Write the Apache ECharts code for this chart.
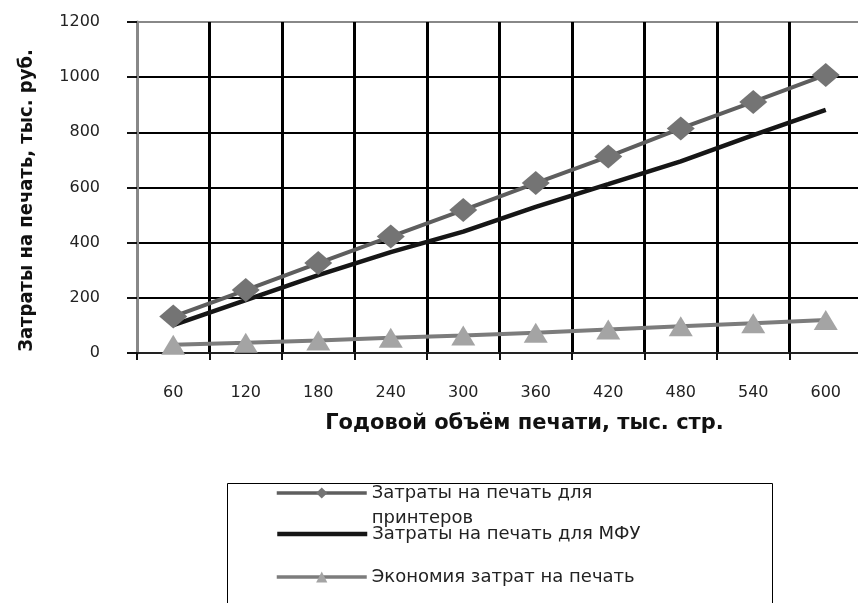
<!DOCTYPE html>
<html><head><meta charset="utf-8">
<script src="https://cdn.jsdelivr.net/npm/echarts@6/dist/echarts.min.js"></script>
<style>html,body{margin:0;padding:0;background:#fff}#c{width:858px;height:603px}</style>
</head><body><div id="c"></div>
<script>
const categories = ['60', '120', '180', '240', '300', '360', '420', '480', '540', '600'];
const printerCosts = [132, 228, 326, 422, 518, 616, 712, 814, 910, 1008];
const mfuCosts = [101, 192, 282, 366, 440, 530, 612, 695, 790, 881];
const savings = [30, 37, 45, 55, 63, 73, 85, 97, 108, 120];
const seriesNames = ['Затраты на печать для принтеров', 'Затраты на печать для МФУ', 'Экономия затрат на печать'];
const xAxisTitle = 'Годовой объём печати, тыс. стр.';
const yAxisTitle = 'Затраты на печать, тыс. руб.';

const chart = echarts.init(document.getElementById('c'), null, {renderer: 'canvas'});
const legendText = {fontFamily: 'DejaVu Sans', fontSize: 18, color: '#222'};
chart.setOption({
  animation: false,
  backgroundColor: '#fff',
  grid: {left: 137, width: 725, top: 22, height: 331, containLabel: false, outerBoundsMode: 'none'},
  graphic: [{
    type: 'rect', z: 0,
    shape: {x: 227.5, y: 483.5, width: 545, height: 200},
    style: {fill: 'none', stroke: '#000', lineWidth: 1}
  }],
  legend: [
    {data: [seriesNames[0]], left: 275, top: 455.5, padding: 0, itemWidth: 90, itemHeight: 14,
     formatter: () => '\nЗатраты на печать для\nпринтеров',
     lineStyle: {width: 3.5},
     textStyle: Object.assign({lineHeight: 25}, legendText)},
    {data: [seriesNames[1]], left: 275, top: 524, padding: 0, itemWidth: 90, itemHeight: 14,
     lineStyle: {width: 4.5}, itemStyle: {opacity: 0},
     textStyle: Object.assign({lineHeight: 20}, legendText)},
    {data: [seriesNames[2]], left: 275, top: 567, padding: 0, itemWidth: 90, itemHeight: 14,
     lineStyle: {width: 3.5},
     textStyle: Object.assign({lineHeight: 20}, legendText)}
  ],
  xAxis: {
    type: 'category', data: categories, boundaryGap: true,
    name: xAxisTitle, nameLocation: 'middle', nameGap: 60,
    nameTextStyle: {fontFamily: 'DejaVu Sans', fontWeight: 'bold', fontSize: 21, color: '#111', padding: [0, 0, 0, 50]},
    axisLine: {show: true, lineStyle: {color: '#222', width: 2}},
    axisTick: {show: true, length: 7, lineStyle: {color: '#111', width: 2}},
    axisLabel: {margin: 32, fontFamily: 'DejaVu Sans', fontSize: 16, color: '#222'},
    splitLine: {show: true, lineStyle: {color: '#000', width: 3}}
  },
  yAxis: {
    type: 'value', min: 0, max: 1200, interval: 200,
    name: yAxisTitle, nameLocation: 'middle', nameGap: 100, nameRotate: 90,
    nameTextStyle: {fontFamily: "'Liberation Sans Narrow', 'DejaVu Sans Condensed', 'Arial Narrow', sans-serif", fontWeight: 'bold', fontSize: 20, color: '#111', padding: [0, 26, 0, 0]},
    axisLine: {show: true, lineStyle: {color: '#888', width: 3}},
    axisTick: {show: true, length: 10, lineStyle: {color: '#111', width: 2}},
    axisLabel: {margin: 37, fontFamily: 'DejaVu Sans', fontSize: 16, color: '#222', formatter: v => String(v)},
    splitLine: {show: true, lineStyle: {color: ['#000', '#000', '#000', '#000', '#000', '#000', '#888'], width: 2}}
  },
  series: [
    {name: seriesNames[0], type: 'line', data: printerCosts, z: 4,
     symbol: 'diamond', symbolSize: [28, 24], showSymbol: true,
     lineStyle: {color: '#5e5e5e', width: 4}, itemStyle: {color: '#747474'}},
    {name: seriesNames[1], type: 'line', data: mfuCosts, z: 3,
     symbol: 'none', lineStyle: {color: '#161616', width: 4.5}, itemStyle: {color: '#161616'}},
    {name: seriesNames[2], type: 'line', data: savings, z: 3,
     symbol: 'triangle', symbolSize: [24, 20],
     lineStyle: {color: '#7c7c7c', width: 4}, itemStyle: {color: '#a4a4a4'}}
  ]
});
</script></body></html>
